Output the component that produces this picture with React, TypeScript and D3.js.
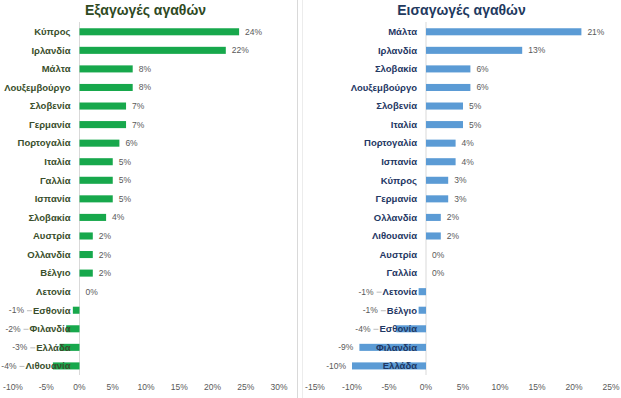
import React, { useEffect, useRef } from "react";
import * as d3 from "d3";

const exportCategories = ["Κύπρος","Ιρλανδία","Μάλτα","Λουξεμβούργο","Σλοβενία","Γερμανία","Πορτογαλία","Ιταλία","Γαλλία","Ισπανία","Σλοβακία","Αυστρία","Ολλανδία","Βέλγιο","Λετονία","Εσθονία","Φιλανδία","Ελλάδα","Λιθουανία"];
const exportValues = [24,22,8,8,7,7,6,5,5,5,4,2,2,2,0,-1,-2,-3,-4];
const exportTicks = [-10,-5,0,5,10,15,20,25,30];

const importCategories = ["Μάλτα","Ιρλανδία","Σλοβακία","Λουξεμβούργο","Σλοβενία","Ιταλία","Πορτογαλία","Ισπανία","Κύπρος","Γερμανία","Ολλανδία","Λιθουανία","Αυστρία","Γαλλία","Λετονία","Βέλγιο","Εσθονία","Φιλανδία","Ελλάδα"];
const importValues = [21,13,6,6,5,5,4,4,3,3,2,2,0,0,-1,-1,-4,-9,-10];
const importTicks = [-15,-10,-5,0,5,10,15,20,25];

const FONT = "'Liberation Sans', Arial, sans-serif";

type Panel = {
  title: string;
  cats: string[];
  vals: number[];
  ticks: number[];
  xRange: [number, number];
  titleX: number;
  bar: string;
  catColor: string;
  titleColor: string;
};

export default function App() {
  const ref = useRef<SVGSVGElement>(null);
  useEffect(() => {
    const svg = d3.select(ref.current);
    svg.selectAll("*").remove();

    svg.append("line").attr("x1", 297.5).attr("x2", 297.5).attr("y1", 0).attr("y2", 398).attr("stroke", "#d9d9d9");
    svg.append("line").attr("x1", 302.5).attr("x2", 302.5).attr("y1", 0).attr("y2", 398).attr("stroke", "#ececec");

    const panels: Panel[] = [
      { title: "Εξαγωγές αγαθών", cats: exportCategories, vals: exportValues, ticks: exportTicks, xRange: [13, 279], titleX: 145.5, bar: "#17a84c", catColor: "#3a4f2c", titleColor: "#2f4a1f" },
      { title: "Εισαγωγές αγαθών", cats: importCategories, vals: importValues, ticks: importTicks, xRange: [315, 611], titleX: 461.5, bar: "#5b9bd5", catColor: "#1f3864", titleColor: "#1f3a5f" },
    ];

    panels.forEach((p) => {
      const g = svg.append("g");
      const x = d3.scaleLinear().domain([p.ticks[0], p.ticks[p.ticks.length - 1]]).range(p.xRange);
      const y = d3.scaleBand<string>().domain(p.cats).range([22.5, 375.2]).paddingInner(0.62).paddingOuter(0.31);
      const x0 = x(0);

      g.append("text").attr("x", p.titleX).attr("y", 14.5).attr("text-anchor", "middle")
        .attr("font-family", FONT).attr("font-size", 14).attr("font-weight", "bold").attr("fill", p.titleColor).text(p.title);

      g.append("line").attr("x1", x0).attr("x2", x0).attr("y1", 22).attr("y2", 375).attr("stroke", "#d9d9d9");

      g.selectAll("rect.bar").data(p.vals).join("rect")
        .attr("x", (d) => Math.min(x(d), x0))
        .attr("y", (_d, i) => y(p.cats[i])!)
        .attr("width", (d) => Math.abs(x(d) - x0))
        .attr("height", y.bandwidth())
        .attr("fill", p.bar);

      const catText = g.selectAll("text.cat").data(p.cats).join("text")
        .attr("class", "cat")
        .attr("x", x0 - 9)
        .attr("y", (d) => y(d)! + y.bandwidth() / 2)
        .attr("dy", "0.35em")
        .attr("text-anchor", "end")
        .attr("font-family", FONT).attr("font-size", 9.5).attr("font-weight", "bold")
        .attr("fill", p.catColor)
        .text((d) => d);

      const widths: number[] = [];
      catText.each(function () { widths.push((this as SVGTextElement).getComputedTextLength()); });

      p.vals.forEach((v, i) => {
        const cy = y(p.cats[i])! + y.bandwidth() / 2;
        if (v >= 0) {
          g.append("text").attr("x", x(v) + 6).attr("y", cy).attr("dy", "0.35em")
            .attr("font-family", FONT).attr("font-size", 8.5).attr("fill", "#595959").text(`${v}%`);
        } else {
          const textStart = x0 - 9 - widths[i];
          const defEnd = x(v) - 6;
          const moved = defEnd > textStart - 3;
          const end = moved ? textStart - 9 : defEnd;
          if (moved) {
            g.append("line").attr("x1", end + 3).attr("x2", textStart - 1).attr("y1", cy + 0.5).attr("y2", cy + 0.5)
              .attr("stroke", "#a6a6a6").attr("stroke-width", 0.75);
          }
          g.append("text").attr("x", end).attr("y", cy).attr("dy", "0.35em").attr("text-anchor", "end")
            .attr("font-family", FONT).attr("font-size", 8.5).attr("fill", "#595959").text(`${v}%`);
        }
      });

      g.selectAll("text.tick").data(p.ticks).join("text")
        .attr("class", "tick")
        .attr("x", (d) => x(d)).attr("y", 390).attr("text-anchor", "middle")
        .attr("font-family", FONT).attr("font-size", 8.5).attr("fill", "#595959")
        .text((d) => `${d}%`);
    });
  }, []);

  return (
    <svg ref={ref} width={621} height={398} style={{ position: "absolute", left: 0, top: 0, background: "#fff" }} />
  );
}
